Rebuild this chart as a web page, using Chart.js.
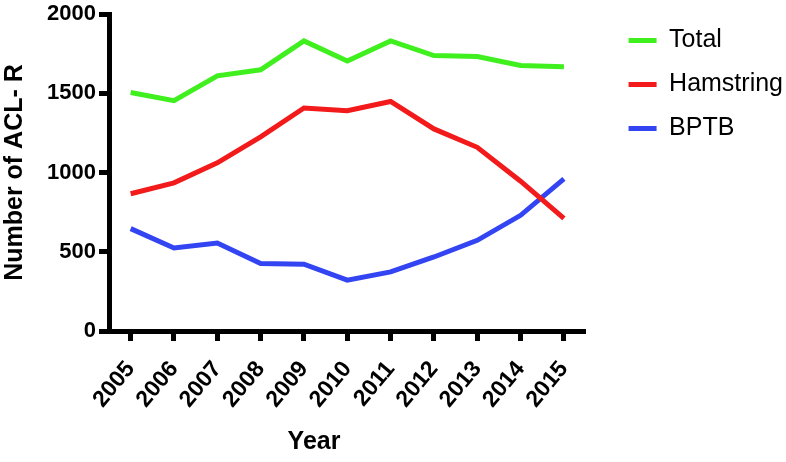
<!DOCTYPE html>
<html>
<head>
<meta charset="utf-8">
<script src="https://cdn.jsdelivr.net/npm/chart.js@4.4.1/dist/chart.umd.min.js"></script>
<style>
  html, body { margin: 0; padding: 0; background: #fff; }
  #wrap { width: 786px; height: 462px; }
</style>
</head>
<body>
<div id="wrap"><canvas id="myChart" width="786" height="462"></canvas></div>
<script>
// Datos
const years = ['2005', '2006', '2007', '2008', '2009', '2010', '2011', '2012', '2013', '2014', '2015'];
const total = [1505, 1453, 1610, 1648, 1830, 1704, 1830, 1738, 1732, 1675, 1667];
const hamstring = [866, 935, 1061, 1225, 1407, 1390, 1448, 1275, 1159, 945, 711];
const bptb = [646, 524, 555, 426, 421, 321, 373, 467, 572, 730, 960];
const yTicks = [0, 500, 1000, 1500, 2000];

const FONT = "'Liberation Sans', Arial, Helvetica, sans-serif";

// Titulo del eje X (desplazado como en el original)
const xTitlePlugin = {
    id: 'xTitle',
    afterDraw(chart) {
        const ctx = chart.ctx;
        const area = chart.chartArea;
        ctx.save();
        ctx.font = 'bold 25px ' + FONT;
        ctx.fillStyle = '#000';
        ctx.textAlign = 'center';
        ctx.textBaseline = 'middle';
        ctx.fillText('Year', area.left + 205, 442);
        ctx.restore();
    }
};

const ctx = document.getElementById('myChart').getContext('2d');
new Chart(ctx, {
    type: 'line',
    data: {
        labels: years,
        datasets: [
            { label: 'Total', data: total, borderColor: '#3ff01e', backgroundColor: '#3ff01e' },
            { label: 'Hamstring', data: hamstring, borderColor: '#f21a1a', backgroundColor: '#f21a1a' },
            { label: 'BPTB', data: bptb, borderColor: '#3344f2', backgroundColor: '#3344f2' }
        ]
    },
    options: {
        responsive: false,
        animation: false,
        layout: { padding: { top: 9, right: -7, bottom: 0, left: 0 } },
        elements: {
            line: { borderWidth: 5, tension: 0 },
            point: { radius: 0, hoverRadius: 0 }
        },
        plugins: {
            tooltip: { enabled: false },
            legend: {
                position: 'right',
                align: 'start',
                maxWidth: 300,
                labels: {
                    boxWidth: 28,
                    boxHeight: 5,
                    padding: 19,
                    color: '#000',
                    font: { family: FONT, size: 25 },
                    generateLabels: chart => chart.data.datasets.map((ds, i) => ({
                        text: ds.label,
                        fillStyle: ds.borderColor,
                        strokeStyle: ds.borderColor,
                        lineWidth: 0,
                        hidden: false,
                        datasetIndex: i,
                        fontColor: '#000'
                    }))
                }
            }
        },
        scales: {
            x: {
                offset: true,
                grid: { drawOnChartArea: false, drawTicks: true, tickLength: 10, tickWidth: 5, tickColor: '#000' },
                border: { display: true, color: '#000', width: 5 },
                ticks: {
                    color: '#000',
                    minRotation: 50,
                    maxRotation: 50,
                    padding: 15,
                    font: { family: FONT, size: 23, weight: 'bold' }
                },
                afterFit(scale) {
                    scale.height = 131;
                    scale.paddingLeft = 0;
                    scale.paddingRight = 0;
                }
            },
            y: {
                min: 0,
                max: 2000,
                grid: { drawOnChartArea: false, drawTicks: true, tickLength: 10, tickWidth: 5, tickColor: '#000' },
                border: { display: true, color: '#000', width: 5 },
                ticks: {
                    color: '#000',
                    padding: 3,
                    font: { family: FONT, size: 22, weight: 'bold' },
                    callback: v => String(v)
                },
                title: {
                    display: true,
                    text: 'Number of ACL- R',
                    color: '#000',
                    padding: 0,
                    font: { family: FONT, size: 25, weight: 'bold' }
                },
                afterBuildTicks(scale) {
                    scale.ticks = yTicks.map(v => ({ value: v }));
                },
                afterFit(scale) {
                    scale.width = 109;
                    scale.paddingTop = 14;
                }
            },
            gap: {
                type: 'linear',
                position: 'right',
                display: true,
                grid: { display: false, drawTicks: false },
                border: { display: false },
                ticks: { display: false },
                afterFit(scale) {
                    scale.width = 24;
                }
            }
        }
    },
    plugins: [xTitlePlugin]
});
</script>
</body>
</html>
